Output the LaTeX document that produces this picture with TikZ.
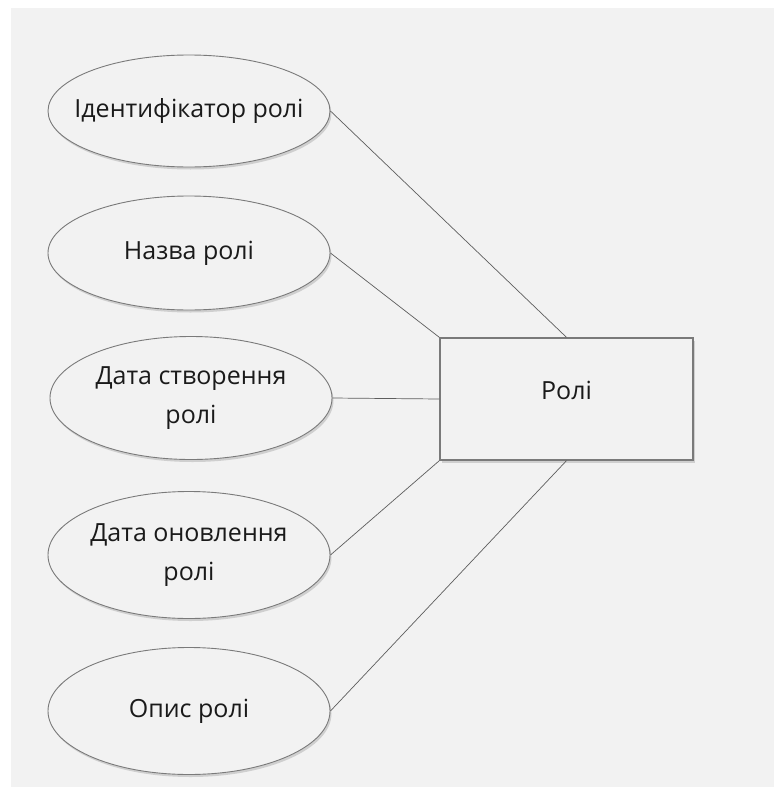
\documentclass[tikz,border=0pt]{standalone}
\usepackage{fontspec}
\setmainfont{Open Sans}
\usetikzlibrary{shapes.geometric,shadows}
\definecolor{bg}{HTML}{F2F2F2}
\definecolor{edgegray}{HTML}{7A7A7A}
\definecolor{conngray}{HTML}{5E5E5E}
\definecolor{txt}{HTML}{1A1A1A}
\begin{document}
\begin{tikzpicture}[x=1pt,y=-1pt,
  attr/.style={ellipse, draw=edgegray, line width=0.9pt, fill=bg,
    minimum width=282pt, inner ysep=0pt, inner xsep=-25pt, align=center, text=txt,
    font=\fontsize{25}{39}\selectfont,
    drop shadow={shadow xshift=1.5pt, shadow yshift=-2.5pt, opacity=0.3, fill=gray}},
  entity/.style={rectangle, draw=edgegray, line width=1.3pt, fill=bg,
    minimum width=253pt, minimum height=122pt, inner sep=0pt,
    drop shadow={shadow xshift=2pt, shadow yshift=-2.5pt, opacity=0.3, fill=gray}},
  lbl/.style={text=txt, font=\fontsize{25}{39}\selectfont, inner sep=0pt},
  conn/.style={draw=conngray, line width=0.7pt}]
\useasboundingbox (0,0) rectangle (774,787);
\fill[white] (0,0) rectangle (774,787);
\fill[bg] (11,8) rectangle (774,787);

\node[attr, minimum height=112pt] (e1) at (189,111) {Ідентифікатор ролі};
\node[attr, minimum height=114pt] (e2) at (189,253) {Назва ролі};
\node[attr, minimum height=123pt] (e3) at (191,398) {Дата створення\\ролі};
\node[attr, minimum height=127pt] (e4) at (189,555) {Дата оновлення\\ролі};
\node[attr, minimum height=127pt] (e5) at (189,711) {Опис ролі};
\node[entity] (r) at (566.5,399) {};
\node[lbl] (rt) at (566.5,390) {Ролі};

\draw[conn] (e1.east) -- (r.north);
\draw[conn] (e2.east) -- (r.north west);
\draw[conn] (e3.east) -- (r.west);
\draw[conn] (e4.east) -- (r.south west);
\draw[conn] (e5.east) -- (r.south);
\end{tikzpicture}
\end{document}
